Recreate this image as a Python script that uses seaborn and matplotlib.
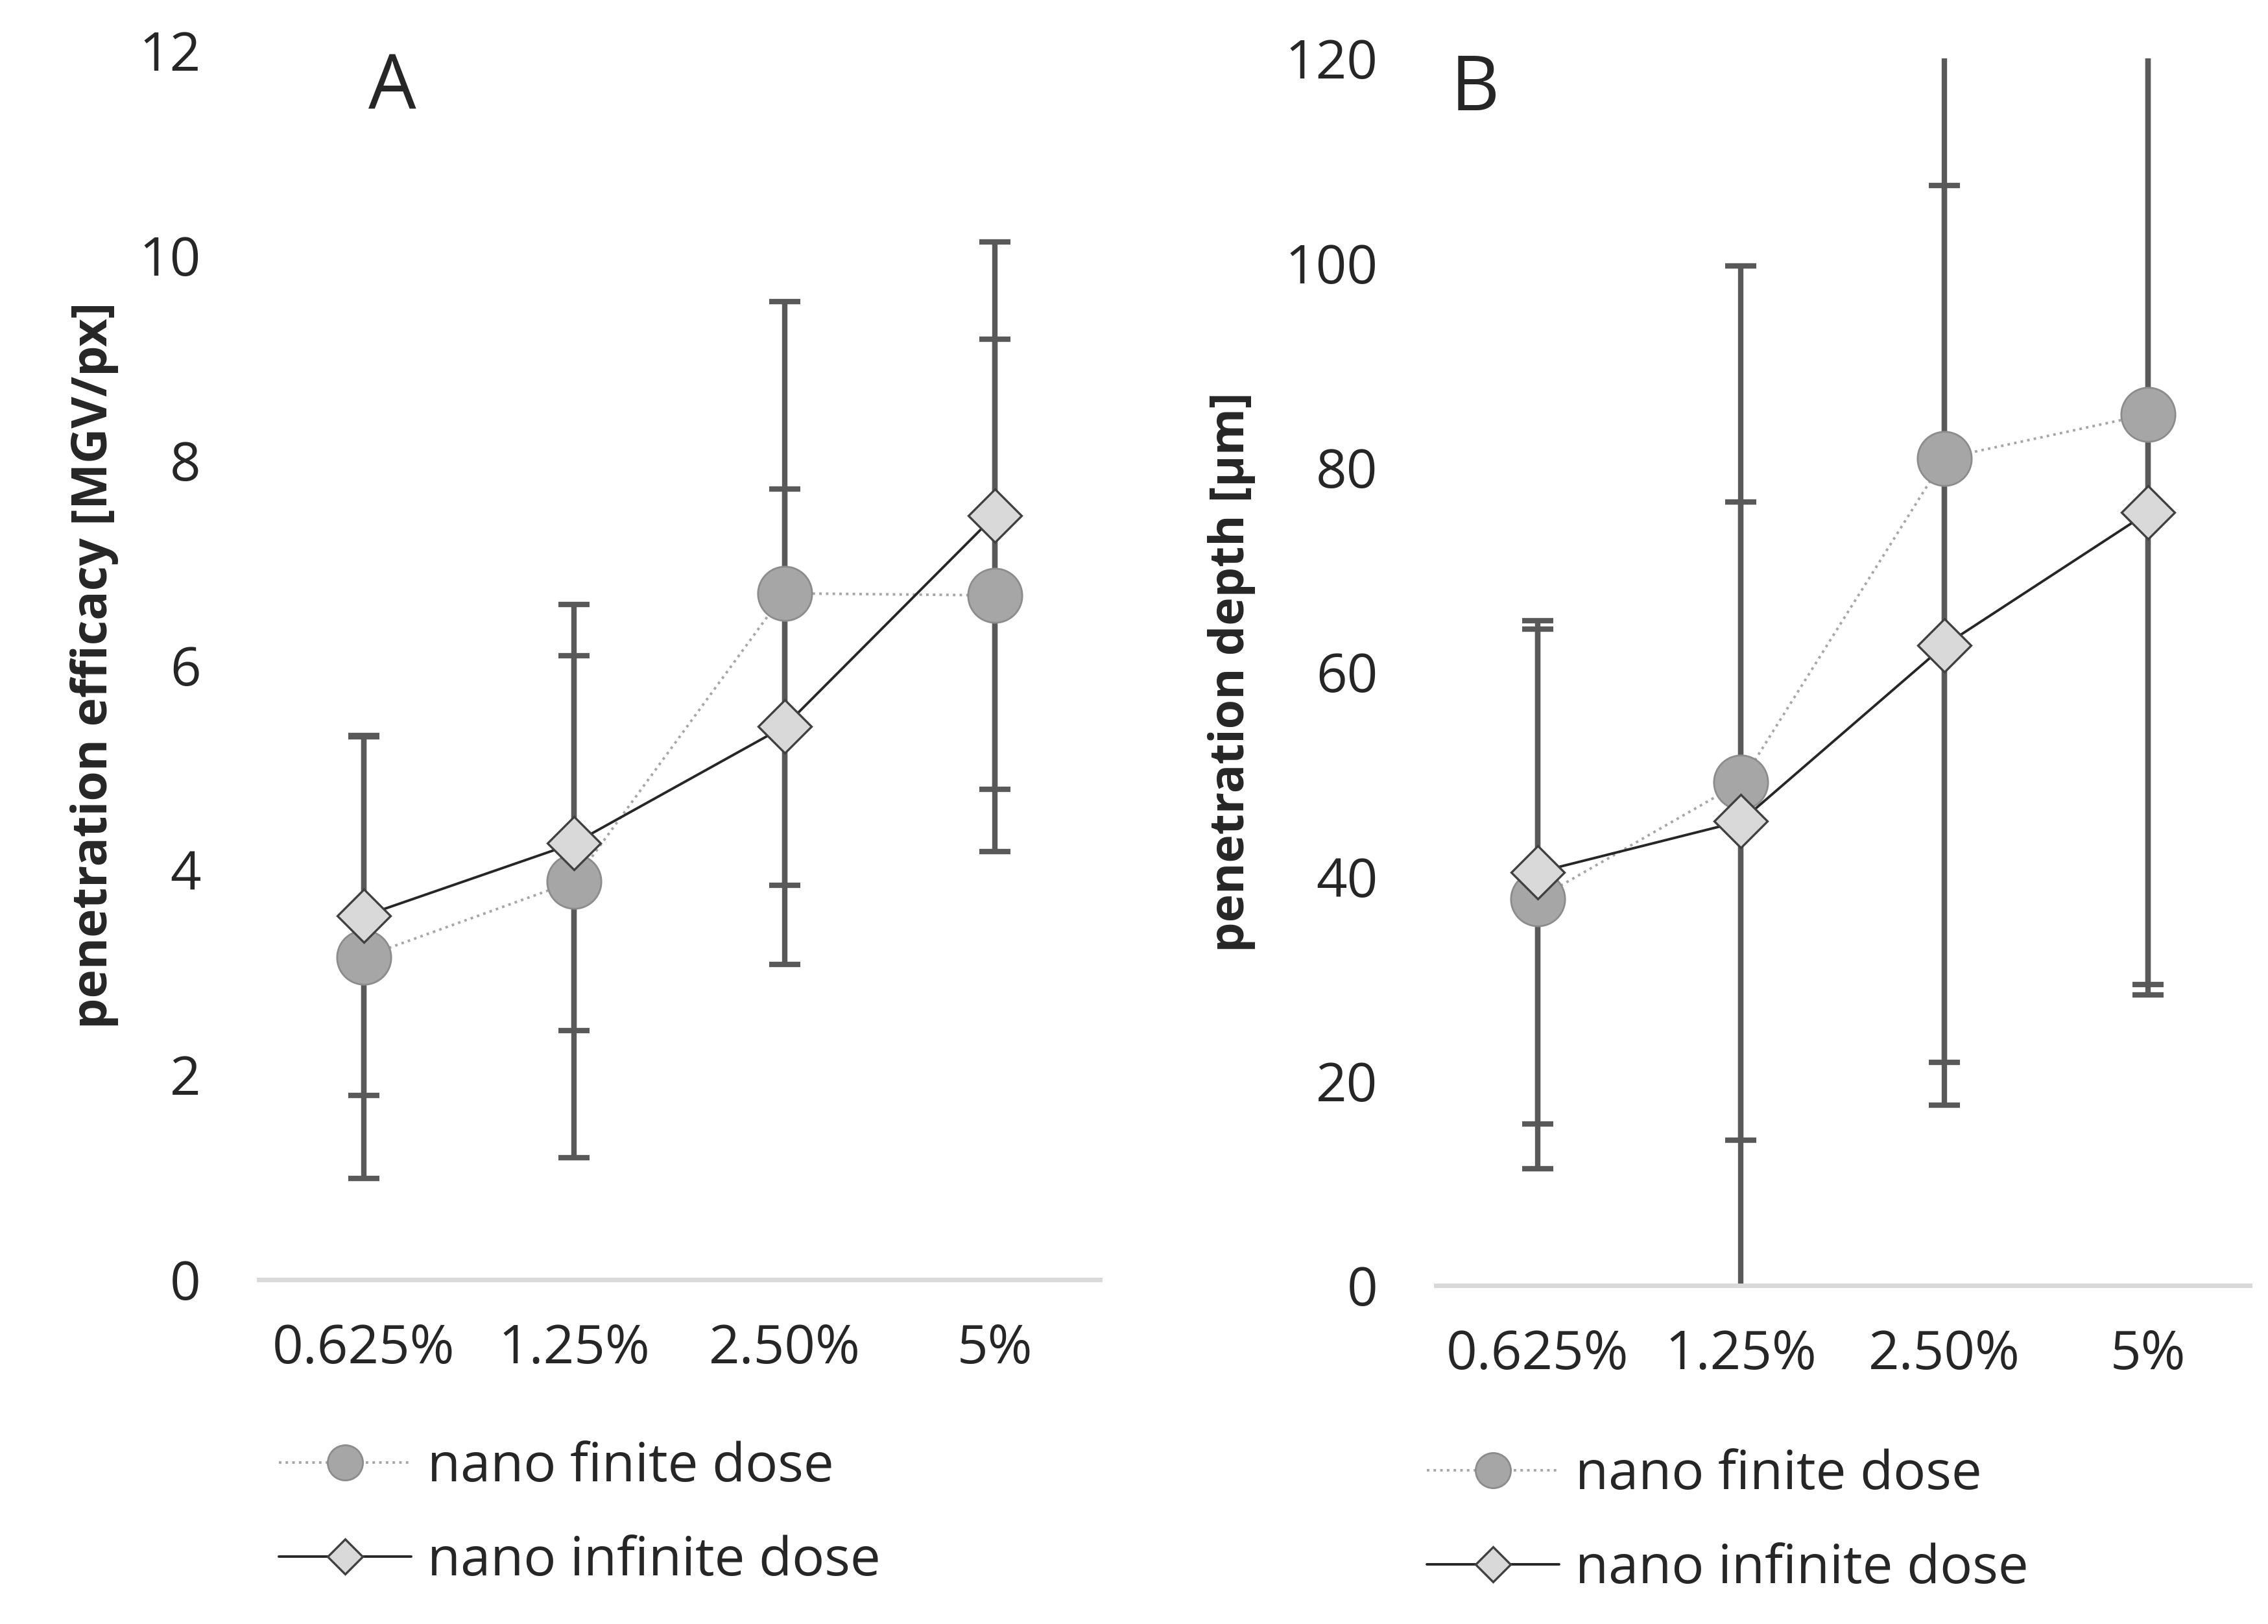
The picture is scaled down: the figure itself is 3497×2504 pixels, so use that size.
import numpy as np
import pandas as pd
import seaborn as sns
import matplotlib.pyplot as plt

# --------------------
# Data
# --------------------
doses = ["0.625%", "1.25%", "2.50%", "5%"]

eff_finite = [3.15, 3.89, 6.70, 6.68]
eff_finite_err = [2.16, 2.70, 2.85, 2.50]
eff_infinite = [3.55, 4.26, 5.40, 7.46]
eff_infinite_err = [1.75, 1.83, 2.32, 2.67]

depth_finite = [37.8, 49.2, 80.9, 85.2]
depth_finite_err = [26.4, 50.5, 59.1, 55.8]
depth_infinite = [40.4, 45.4, 62.6, 75.6]
depth_infinite_err = [24.6, 31.2, 45.0, 47.2]

series_names = ["nano finite dose", "nano infinite dose"]

# --------------------
# Style
# --------------------
sns.set_style("white")
plt.rcParams["font.family"] = ["Open Sans", "DejaVu Sans"]

FINITE_STYLE = dict(color="#a6a6a6", linestyle=":", linewidth=1.4, marker="o",
                    markersize=30, markerfacecolor="#a6a6a6",
                    markeredgecolor="#8c8c8c", markeredgewidth=1.0)
INFINITE_STYLE = dict(color="#262626", linestyle="-", linewidth=1.4, marker="D",
                      markersize=21, markerfacecolor="#d9d9d9",
                      markeredgecolor="#404040", markeredgewidth=1.2)
ERR_COLOR = "#595959"


def draw_panel(ax, finite, finite_err, infinite, infinite_err, ymax, ystep,
               ylabel, label_size, letter, letter_xy, label_x, legend_xy, fig):
    df = pd.DataFrame({"dose": doses * 2,
                       "value": finite + infinite,
                       "series": [series_names[0]] * 4 + [series_names[1]] * 4})

    # error bars behind the markers
    ax.errorbar(doses, finite, yerr=finite_err, fmt="none", ecolor=ERR_COLOR,
                elinewidth=3, capsize=8.5, capthick=3, zorder=2)
    ax.errorbar(doses, infinite, yerr=infinite_err, fmt="none", ecolor=ERR_COLOR,
                elinewidth=3, capsize=8.5, capthick=3, zorder=2)

    sns.lineplot(data=df[df["series"] == series_names[0]], x="dose", y="value",
                 sort=False, ax=ax, label=series_names[0], zorder=3, **FINITE_STYLE)
    sns.lineplot(data=df[df["series"] == series_names[1]], x="dose", y="value",
                 sort=False, ax=ax, label=series_names[1], zorder=4, **INFINITE_STYLE)

    ax.set_xlim(-0.5, 3.5)
    ax.set_ylim(0, ymax)
    ax.set_yticks(np.arange(0, ymax + ystep / 2, ystep))
    ax.tick_params(axis="both", length=0, labelsize=30)
    ax.tick_params(axis="y", pad=32)
    ax.tick_params(axis="x", pad=24)
    for side in ["top", "right", "left"]:
        ax.spines[side].set_visible(False)
    ax.spines["bottom"].set_color("#d9d9d9")
    ax.spines["bottom"].set_linewidth(2.5)

    ax.set_xlabel("")
    ax.set_ylabel(ylabel, fontsize=label_size, fontweight="bold")
    ax.yaxis.set_label_coords(label_x, 0.5)
    ax.text(letter_xy[0], letter_xy[1], letter, transform=ax.transAxes,
            fontsize=42, ha="center", va="center", fontweight="medium")

    ax.legend(loc="center left", bbox_to_anchor=legend_xy,
              bbox_transform=fig.transFigure, frameon=False, fontsize=30,
              handlelength=2.45, handletextpad=0.3, labelspacing=0.75,
              borderpad=0, borderaxespad=0, markerscale=0.65)


def main():
    fig = plt.figure(figsize=(17.485, 12.52), dpi=200)
    ax_a = fig.add_axes([0.114, 0.212, 0.371, 0.757])
    ax_b = fig.add_axes([0.633, 0.2085, 0.359, 0.7555])

    draw_panel(ax_a, eff_finite, eff_finite_err, eff_infinite, eff_infinite_err,
               12, 2, "penetration efficacy [MGV/px]", 27, "A", (0.159, 0.968),
               -0.166, (0.123, 0.0675), fig)
    draw_panel(ax_b, depth_finite, depth_finite_err, depth_infinite, depth_infinite_err,
               120, 20, "penetration depth [µm]", 26.5, "B", (0.048, 0.974),
               -0.221, (0.629, 0.0625), fig)

    fig.savefig("out.png", dpi=200)
    plt.close(fig)


if __name__ == "__main__":
    main()
